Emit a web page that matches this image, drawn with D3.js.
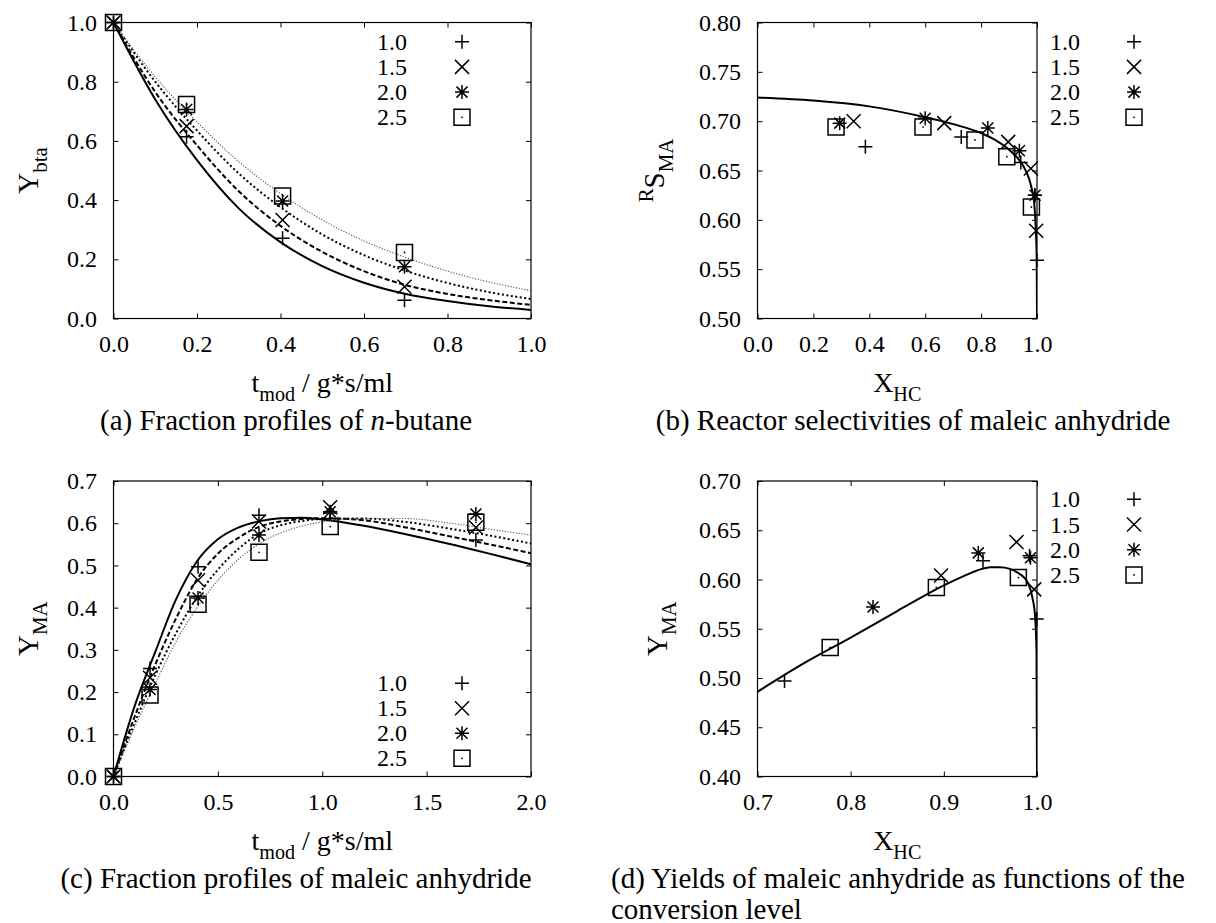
<!DOCTYPE html>
<html>
<head>
<meta charset="utf-8">
<script src="https://cdn.jsdelivr.net/npm/d3@7"></script>
<style>
  body { margin: 0; background: #fff; }
  svg { display: block; font-family: "Liberation Serif", "Times New Roman", serif; }
  text { white-space: pre; font-family: "Liberation Serif", "Times New Roman", serif; }
</style>
</head>
<body>
<div id="chart"></div>
<script>
// legend entries (feed ratio)
const feeds = ['1.0', '1.5', '2.0', '2.5'];

// measured modified residence times
const tExp = [0, 0.175, 0.405, 0.697, 1.038, 1.736];

// (a) n-butane fraction, measured (only t <= 1 visible)
const ybta10 = [1.0, 0.614, 0.271, 0.062];
const ybta15 = [1.0, 0.650, 0.333, 0.107];
const ybta20 = [1.0, 0.706, 0.397, 0.175];
const ybta25 = [1.0, 0.723, 0.414, 0.223];

// (a) model curves
const tGridA = [0, 0.1, 0.2, 0.3, 0.4, 0.5, 0.6, 0.7, 0.8, 0.9, 1.0];
const ybtaFit10 = [1, 0.74, 0.535, 0.372, 0.258, 0.177, 0.121, 0.083, 0.059, 0.041, 0.029];
const ybtaFit15 = [1, 0.765, 0.585, 0.43, 0.313, 0.225, 0.16, 0.113, 0.083, 0.062, 0.046];
const ybtaFit20 = [1, 0.80, 0.635, 0.49, 0.376, 0.284, 0.214, 0.161, 0.12, 0.089, 0.066];
const ybtaFit25 = [1, 0.816, 0.664, 0.53, 0.422, 0.333, 0.262, 0.206, 0.16, 0.123, 0.094];

// (c) maleic anhydride fraction, measured
const yma10 = [0, 0.256, 0.497, 0.619, 0.624, 0.560];
const yma15 = [0, 0.234, 0.465, 0.604, 0.638, 0.590];
const yma20 = [0, 0.206, 0.423, 0.572, 0.627, 0.622];
const yma25 = [0, 0.193, 0.408, 0.531, 0.592, 0.602];

// (c) model curves
const tGridC = [0, 0.1, 0.2, 0.3, 0.4, 0.5, 0.6, 0.7, 0.8, 0.9, 1.0, 1.2, 1.4, 1.6, 1.8, 2.0];
const ymaFit10 = [0, 0.165, 0.295, 0.42, 0.51, 0.562, 0.59, 0.605, 0.612, 0.613, 0.609, 0.594, 0.574, 0.552, 0.528, 0.503];
const ymaFit15 = [0, 0.14, 0.265, 0.375, 0.467, 0.528, 0.566, 0.592, 0.604, 0.61, 0.612, 0.607, 0.59, 0.57, 0.55, 0.529];
const ymaFit20 = [0, 0.125, 0.24, 0.34, 0.425, 0.49, 0.54, 0.576, 0.595, 0.605, 0.61, 0.611, 0.603, 0.588, 0.571, 0.552];
const ymaFit25 = [0, 0.115, 0.22, 0.32, 0.40, 0.465, 0.515, 0.552, 0.577, 0.593, 0.603, 0.611, 0.611, 0.601, 0.586, 0.572];

// (b),(d) conversion of the measured points (t > 0)
const xhc10 = [0.386, 0.729, 0.942, 0.992, 0.9997];
const xhc15 = [0.344, 0.668, 0.897, 0.978, 0.997];
const xhc20 = [0.294, 0.600, 0.824, 0.937, 0.993];
const xhc25 = [0.281, 0.592, 0.778, 0.892, 0.980];

// (b) reactor selectivity, measured
const sma10 = [0.674, 0.684, 0.658, 0.625, 0.559];
const sma15 = [0.700, 0.698, 0.679, 0.652, 0.589];
const sma20 = [0.698, 0.703, 0.693, 0.670, 0.625];
const sma25 = [0.694, 0.694, 0.681, 0.664, 0.613];

// (b) model curve
const xGridB = [0, 0.2, 0.4, 0.6, 0.7, 0.8, 0.85, 0.9, 0.95, 0.97, 0.98, 0.99, 0.995, 0.999, 1.0];
const smaFit = [0.724, 0.721, 0.715, 0.704, 0.697, 0.688, 0.681, 0.671, 0.655, 0.643, 0.633, 0.617, 0.595, 0.56, 0.50];

// (d) model curve
const xGridD = [0.7, 0.75, 0.8, 0.85, 0.9, 0.92, 0.93, 0.94, 0.95, 0.96, 0.97, 0.98, 0.985, 0.99, 0.995, 0.998, 0.9995, 1.0];
const ymaFitX = [0.486, 0.515, 0.541, 0.568, 0.594, 0.603, 0.607, 0.6105, 0.6125, 0.6125, 0.611, 0.6065, 0.603, 0.597, 0.582, 0.562, 0.525, 0.40];

// tick values
const ticksA_x = [0, 0.2, 0.4, 0.6, 0.8, 1.0];
const ticksA_y = [0, 0.2, 0.4, 0.6, 0.8, 1.0];
const ticksB_x = [0, 0.2, 0.4, 0.6, 0.8, 1.0];
const ticksB_y = [0.50, 0.55, 0.60, 0.65, 0.70, 0.75, 0.80];
const ticksC_x = [0, 0.5, 1.0, 1.5, 2.0];
const ticksC_y = [0, 0.1, 0.2, 0.3, 0.4, 0.5, 0.6, 0.7];
const ticksD_x = [0.7, 0.8, 0.9, 1.0];
const ticksD_y = [0.40, 0.45, 0.50, 0.55, 0.60, 0.65, 0.70];

const W = 1216, H = 923;
const serif = '"Liberation Serif", "Times New Roman", serif';
const svg = d3.select('#chart').append('svg').attr('width', W).attr('height', H);

// line styles for the four feed ratios
const lineStyles = [
  {dash: null, width: 2, color: '#000'},
  {dash: '5,2.5', width: 2, color: '#000'},
  {dash: '2,2.5', width: 2, color: '#000'},
  {dash: '1.2,1.6', width: 1.1, color: '#555'}
];

// gnuplot point types: +, x, *, box
const symbolShapes = [
  'M-7,0H7M0,-7V7',
  'M-7,-7L7,7M-7,7L7,-7',
  'M-7,0H7M0,-7V7M-5.5,-5.5L5.5,5.5M-5.5,5.5L5.5,-5.5',
  'M-8,-8H8V8H-8Z'
];

function addSymbol(g, k, px, py) {
  g.append('path')
    .attr('d', symbolShapes[k])
    .attr('transform', `translate(${px},${py})`)
    .attr('fill', 'none')
    .attr('stroke', '#000')
    .attr('stroke-width', 1.5);
  if (k === 3) {
    g.append('circle').attr('cx', px).attr('cy', py).attr('r', 0.9).attr('fill', '#000');
  }
}

function richText(sel, parts, size) {
  let shift = 0;
  parts.forEach(p => {
    const target = p.sub ? 9 : (p.sup ? -11 : 0);
    sel.append('tspan')
      .attr('dy', target - shift)
      .attr('font-size', (p.sub || p.sup) ? size * 0.72 : size)
      .attr('font-style', p.it ? 'italic' : null)
      .text(p.t);
    shift = target;
  });
}

function panel(o) {
  const g = svg.append('g');
  const x = d3.scaleLinear().domain(o.xDomain).range([o.left, o.right]);
  const y = d3.scaleLinear().domain(o.yDomain).range([o.bottom, o.top]);

  svg.append('clipPath').attr('id', 'clip' + o.id)
    .append('rect')
    .attr('x', o.left).attr('y', o.top)
    .attr('width', o.right - o.left).attr('height', o.bottom - o.top);

  const bottomAxis = g.append('g')
    .attr('transform', `translate(0,${o.bottom})`)
    .call(d3.axisBottom(x).tickValues(o.xTicks).tickFormat(d3.format(o.xFmt))
      .tickSizeInner(-5).tickSizeOuter(0).tickPadding(16));
  const leftAxis = g.append('g')
    .attr('transform', `translate(${o.left},0)`)
    .call(d3.axisLeft(y).tickValues(o.yTicks).tickFormat(d3.format(o.yFmt))
      .tickSizeInner(-5).tickSizeOuter(0).tickPadding(16.5));
  const topAxis = g.append('g')
    .attr('transform', `translate(0,${o.top})`)
    .call(d3.axisTop(x).tickValues(o.xTicks).tickFormat('').tickSizeInner(-5).tickSizeOuter(0));
  const rightAxis = g.append('g')
    .attr('transform', `translate(${o.right},0)`)
    .call(d3.axisRight(y).tickValues(o.yTicks).tickFormat('').tickSizeInner(-5).tickSizeOuter(0));

  [bottomAxis, leftAxis, topAxis, rightAxis].forEach(a => {
    a.attr('font-family', null).attr('font-size', null);
    a.select('.domain').remove();
    a.selectAll('line').attr('stroke', '#000').attr('stroke-width', 1);
    a.selectAll('text').style('font-size', '24px').style('font-family', serif).attr('fill', '#000');
  });

  g.append('rect')
    .attr('x', o.left).attr('y', o.top)
    .attr('width', o.right - o.left).attr('height', o.bottom - o.top)
    .attr('fill', 'none').attr('stroke', '#000').attr('stroke-width', 1.2);

  // model curves
  const line = d3.line().x(d => x(d[0])).y(d => y(d[1])).curve(d3.curveMonotoneX);
  const curves = g.append('g').attr('clip-path', `url(#clip${o.id})`);
  o.lines.forEach(ln => {
    const st = lineStyles[ln.style];
    curves.append('path')
      .datum(d3.zip(ln.xs, ln.ys))
      .attr('d', line)
      .attr('fill', 'none')
      .attr('stroke', st.color)
      .attr('stroke-width', st.width)
      .attr('stroke-dasharray', st.dash);
  });

  // measured points
  const pts = g.append('g');
  const eps = 1e-9;
  o.points.forEach((s, k) => {
    d3.zip(s.xs, s.ys).forEach(d => {
      if (d[0] < o.xDomain[0] - eps || d[0] > o.xDomain[1] + eps) return;
      if (d[1] < o.yDomain[0] - eps || d[1] > o.yDomain[1] + eps) return;
      addSymbol(pts, k, x(d[0]), y(d[1]));
    });
  });

  // legend
  const lg = g.append('g');
  feeds.forEach((f, i) => {
    const cy = o.legend.y0 + i * o.legend.dy;
    lg.append('text')
      .attr('x', o.legend.xText).attr('y', cy + 8)
      .attr('text-anchor', 'end').attr('font-size', 24)
      .text(f);
    addSymbol(lg, i, o.legend.xSym, cy);
  });

  // axis titles
  const xt = g.append('text')
    .attr('x', (o.left + o.right) / 2).attr('y', o.bottom + 73)
    .attr('text-anchor', 'middle');
  richText(xt, o.xTitle, 28);

  const yt = g.append('text')
    .attr('transform', `translate(${o.yTitleX},${(o.top + o.bottom) / 2}) rotate(-90)`)
    .attr('text-anchor', 'middle');
  richText(yt, o.yTitle, 29);

  // caption
  o.caption.forEach((c, i) => {
    const ct = g.append('text')
      .attr('x', o.capX).attr('y', o.bottom + 111 + i * 31)
      .attr('text-anchor', o.capAnchor);
    richText(ct, c, 29);
  });
}

const tTitle = [{t: 't'}, {t: 'mod', sub: true}, {t: ' / g*s/ml'}];
const xhcTitle = [{t: 'X'}, {t: 'HC', sub: true}];

panel({
  id: 'a', left: 113.5, right: 531, top: 22.5, bottom: 318.5,
  xDomain: [0, 1], yDomain: [0, 1], xTicks: ticksA_x, yTicks: ticksA_y, xFmt: '.1f', yFmt: '.1f',
  lines: [
    {xs: tGridA, ys: ybtaFit10, style: 0},
    {xs: tGridA, ys: ybtaFit15, style: 1},
    {xs: tGridA, ys: ybtaFit20, style: 2},
    {xs: tGridA, ys: ybtaFit25, style: 3}
  ],
  points: [
    {xs: tExp, ys: ybta10}, {xs: tExp, ys: ybta15},
    {xs: tExp, ys: ybta20}, {xs: tExp, ys: ybta25}
  ],
  legend: {xText: 407, xSym: 462, y0: 41.7, dy: 25.2},
  xTitle: tTitle,
  yTitle: [{t: 'Y'}, {t: 'bta', sub: true}], yTitleX: 38,
  caption: [[{t: '(a) Fraction profiles of '}, {t: 'n', it: true}, {t: '-butane'}]],
  capX: 286, capAnchor: 'middle'
});

panel({
  id: 'b', left: 757.5, right: 1037, top: 22.5, bottom: 318.5,
  xDomain: [0, 1], yDomain: [0.5, 0.8], xTicks: ticksB_x, yTicks: ticksB_y, xFmt: '.1f', yFmt: '.2f',
  lines: [{xs: xGridB, ys: smaFit, style: 0}],
  points: [
    {xs: xhc10, ys: sma10}, {xs: xhc15, ys: sma15},
    {xs: xhc20, ys: sma20}, {xs: xhc25, ys: sma25}
  ],
  legend: {xText: 1080, xSym: 1134, y0: 41.7, dy: 25.2},
  xTitle: xhcTitle,
  yTitle: [{t: 'R', sup: true}, {t: 'S'}, {t: 'MA', sub: true}], yTitleX: 664,
  caption: [[{t: '(b) Reactor selectivities of maleic anhydride'}]],
  capX: 913, capAnchor: 'middle'
});

panel({
  id: 'c', left: 113.5, right: 531, top: 481, bottom: 776.5,
  xDomain: [0, 2], yDomain: [0, 0.7], xTicks: ticksC_x, yTicks: ticksC_y, xFmt: '.1f', yFmt: '.1f',
  lines: [
    {xs: tGridC, ys: ymaFit10, style: 0},
    {xs: tGridC, ys: ymaFit15, style: 1},
    {xs: tGridC, ys: ymaFit20, style: 2},
    {xs: tGridC, ys: ymaFit25, style: 3}
  ],
  points: [
    {xs: tExp, ys: yma10}, {xs: tExp, ys: yma15},
    {xs: tExp, ys: yma20}, {xs: tExp, ys: yma25}
  ],
  legend: {xText: 407, xSym: 462, y0: 683.3, dy: 25},
  xTitle: tTitle,
  yTitle: [{t: 'Y'}, {t: 'MA', sub: true}], yTitleX: 38,
  caption: [[{t: '(c) Fraction profiles of maleic anhydride'}]],
  capX: 296, capAnchor: 'middle'
});

panel({
  id: 'd', left: 757.5, right: 1037, top: 481, bottom: 776.5,
  xDomain: [0.7, 1.0], yDomain: [0.4, 0.7], xTicks: ticksD_x, yTicks: ticksD_y, xFmt: '.1f', yFmt: '.2f',
  lines: [{xs: xGridD, ys: ymaFitX, style: 0}],
  points: [
    {xs: xhc10, ys: yma10.slice(1)}, {xs: xhc15, ys: yma15.slice(1)},
    {xs: xhc20, ys: yma20.slice(1)}, {xs: xhc25, ys: yma25.slice(1)}
  ],
  legend: {xText: 1080, xSym: 1134, y0: 499.3, dy: 25.2},
  xTitle: xhcTitle,
  yTitle: [{t: 'Y'}, {t: 'MA', sub: true}], yTitleX: 667,
  caption: [
    [{t: '(d) Yields of maleic anhydride as functions of the'}],
    [{t: 'conversion level'}]
  ],
  capX: 611, capAnchor: 'start'
});
</script>
</body>
</html>
